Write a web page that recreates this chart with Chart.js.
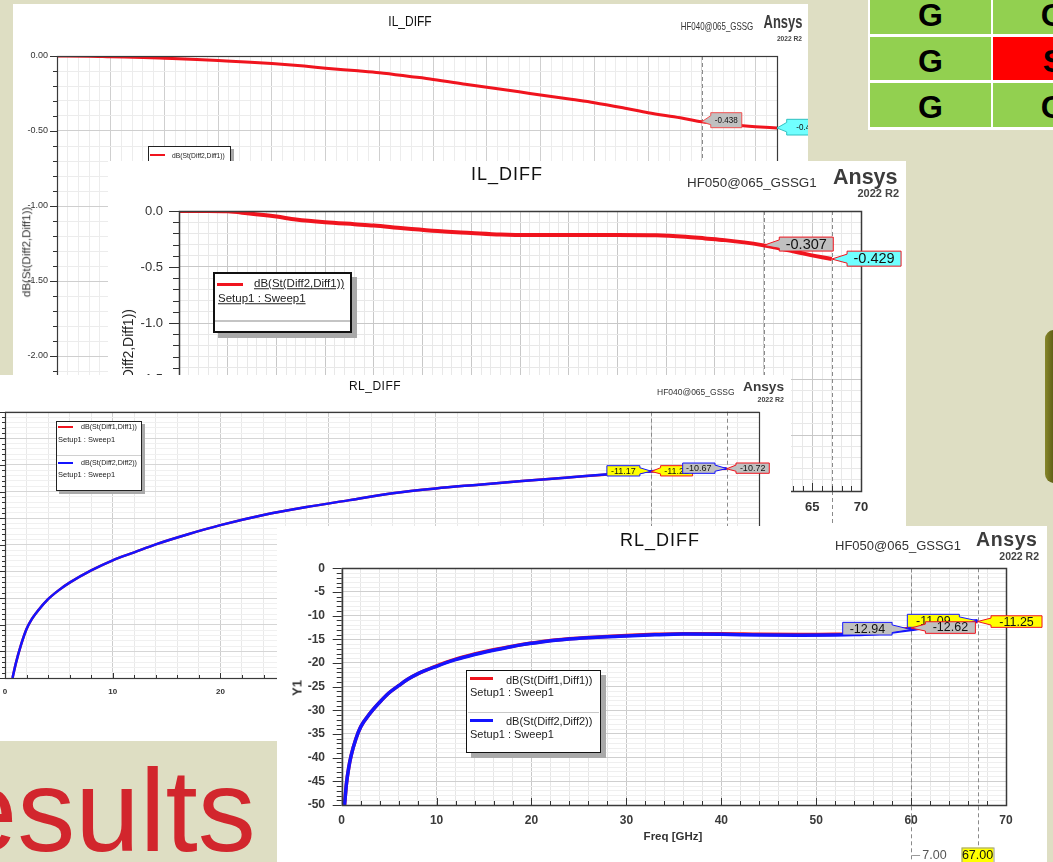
<!DOCTYPE html>
<html>
<head>
<meta charset="utf-8">
<title>IL_DIFF / RL_DIFF</title>
<script src="https://cdn.jsdelivr.net/npm/chart.js@4.4.1/dist/chart.umd.min.js"></script>
<style>
  html, body { margin: 0; padding: 0; }
  body { width: 1053px; height: 862px; position: relative; overflow: hidden;
         background: #dedec3; font-family: "Liberation Sans", Arial, sans-serif; }
  .panel { position: absolute; background: #fff; overflow: hidden; }
  .panel canvas { position: absolute; left: 0; top: 0; }
  .txt { position: absolute; white-space: nowrap; line-height: 1; }
  .box { position: absolute; box-sizing: border-box; }
</style>
</head>
<body>
<script>
// ---------------- data ----------------
// Insertion loss, HF040@065_GSSG : dB(St(Diff2,Diff1))
const ilFreq040 = [0, 3, 5, 8, 10, 13, 15, 18, 20, 23, 25, 28, 30, 33, 35, 38, 40, 43, 45, 48, 50, 53, 55, 58, 60, 63, 65, 67];
const ilS21_040 = [0, -0.001, -0.005, -0.010, -0.015, -0.023, -0.030, -0.041, -0.050, -0.067, -0.081, -0.099, -0.112, -0.138, -0.156, -0.188, -0.209, -0.239, -0.260, -0.290, -0.311, -0.350, -0.378, -0.412, -0.438, -0.460, -0.471, -0.480];

// Insertion loss, HF050@065_GSSG1 : dB(St(Diff2,Diff1))
const ilFreq050 = [0, 3, 5, 7, 10, 12, 15, 18, 20, 23, 26, 30, 33, 36, 40, 45, 49, 52, 54, 56, 58, 60, 62, 64, 67];
const ilS21_050 = [0, 0, -0.003, -0.020, -0.050, -0.075, -0.100, -0.118, -0.130, -0.155, -0.176, -0.196, -0.210, -0.215, -0.215, -0.215, -0.217, -0.230, -0.245, -0.260, -0.280, -0.307, -0.340, -0.378, -0.429];

// Return loss, HF040@065_GSSG : dB(St(Diff1,Diff1)) and dB(St(Diff2,Diff2))
const rlFreq040 = [0.7, 1, 1.5, 2, 2.5, 3, 4, 5, 6, 8, 10, 12, 14, 17, 20, 24, 28, 32, 36, 40, 44, 48, 52, 56, 60, 64, 67];
const rlS11_040 = [-50, -47.3, -43.7, -40.8, -38.9, -37.5, -35.2, -33.5, -32.1, -29.8, -27.9, -26.4, -24.9, -23.0, -21.3, -19.4, -17.9, -16.6, -15.3, -14.4, -13.7, -13.0, -12.4, -11.78, -11.22, -10.9, -10.72];
const rlS22_040 = [-50, -47.3, -43.7, -40.8, -38.9, -37.5, -35.2, -33.5, -32.1, -29.8, -27.9, -26.4, -24.9, -23.0, -21.3, -19.4, -17.9, -16.6, -15.3, -14.4, -13.7, -13.0, -12.4, -11.75, -11.17, -10.85, -10.67];

// Return loss, HF050@065_GSSG1 : dB(St(Diff1,Diff1)) and dB(St(Diff2,Diff2))
const rlFreq050 = [0.3, 0.5, 0.75, 1, 1.5, 2, 3, 4, 5, 6, 7, 8, 10, 12, 14, 16, 18, 20, 22, 25, 28, 30, 33, 36, 40, 44, 48, 52, 54, 56, 58, 60, 62, 64, 67];
const rlS11_050 = [-50, -45.5, -42, -39.5, -36, -33.5, -30.6, -28.3, -26.3, -24.8, -23.4, -22.3, -20.6, -19.2, -18.1, -17.2, -16.45, -15.8, -15.25, -14.75, -14.4, -14.2, -13.95, -13.8, -13.8, -13.95, -14.0, -13.95, -13.8, -13.55, -13.2, -12.62, -12.1, -11.7, -11.25];
const rlS22_050 = [-50, -45.5, -42, -39.5, -36, -33.5, -30.6, -28.3, -26.3, -24.8, -23.4, -22.3, -20.7, -19.3, -18.2, -17.3, -16.5, -15.85, -15.3, -14.8, -14.45, -14.3, -14.05, -13.9, -13.95, -14.1, -14.15, -14.1, -14.0, -13.8, -13.45, -12.94, -12.3, -11.8, -11.09];

// marker cursors (GHz) and markers: series index + frequency
const cursorFreqs = [60, 67];
const il040Markers = [{ s: 0, f: 60 }, { s: 0, f: 67 }];
const il050Markers = [{ s: 0, f: 60 }, { s: 0, f: 67 }];
const rl040Markers = [{ s: 1, f: 60 }, { s: 0, f: 60 }, { s: 1, f: 67 }, { s: 0, f: 67 }];
const rl050Markers = [{ s: 1, f: 67 }, { s: 1, f: 60 }, { s: 0, f: 60 }, { s: 0, f: 67 }];

// status table
const tableLetters = [['G', 'G'], ['G', 'S'], ['G', 'G']];
const tableState = [['ok', 'ok'], ['ok', 'bad'], ['ok', 'ok']];

// ---------------- helpers ----------------
const FONT = '"Liberation Sans", Arial, sans-serif';
const RED = '#f0141e', BLUE = '#1414ff';
const GRAYBOX = '#c0c0c0', YELLOW = '#ffff00', CYAN = '#70ffff';
Chart.defaults.font.family = FONT;

const onStep = (v, s) => Math.abs(v / s - Math.round(v / s)) < 1e-6;

function makePanel(x, y, w, h) {
  const el = document.createElement('div');
  el.className = 'panel';
  Object.assign(el.style, { left: x + 'px', top: y + 'px', width: w + 'px', height: h + 'px' });
  document.body.appendChild(el);
  return { el, ox: x, oy: y, w, h };
}
const root = { el: document.body, ox: 0, oy: 0 };

function addText(p, str, x, y, o = {}) {
  const d = document.createElement('div');
  d.className = 'txt';
  d.textContent = str;
  const s = d.style;
  s.left = (x - p.ox) + 'px';
  s.top = (y - p.oy) + 'px';
  s.fontSize = (o.size || 12) + 'px';
  s.fontWeight = o.bold ? 'bold' : 'normal';
  s.color = o.color || '#222';
  if (o.spacing) s.letterSpacing = o.spacing + 'px';
  if (o.underline) s.textDecoration = 'underline';
  const a = o.align || 'l';
  const tx = a === 'c' ? '-50%' : a === 'r' ? '-100%' : '0';
  const orx = a === 'c' ? '50%' : a === 'r' ? '100%' : '0';
  s.transformOrigin = orx + ' 50%';
  s.transform = `translate(${tx},-50%)` + (o.rot ? ` rotate(${o.rot}deg)` : '') + (o.sx ? ` scaleX(${o.sx})` : '');
  p.el.appendChild(d);
  return d;
}
function addRect(p, x, y, w, h, css) {
  const d = document.createElement('div');
  d.className = 'box';
  Object.assign(d.style, { left: (x - p.ox) + 'px', top: (y - p.oy) + 'px', width: w + 'px', height: h + 'px' }, css || {});
  p.el.appendChild(d);
  return d;
}

function drawFlag(ctx, px, py, text, st, font) {
  const bx = px + st.dx, by = py + st.dy, w = st.w, h = st.h;
  ctx.beginPath();
  if (bx > px) {
    ctx.moveTo(bx, by); ctx.lineTo(bx + w, by); ctx.lineTo(bx + w, by + h); ctx.lineTo(bx, by + h);
    ctx.lineTo(bx, by + h * 0.8); ctx.lineTo(px, py); ctx.lineTo(bx, by + h * 0.2);
  } else {
    ctx.moveTo(bx, by); ctx.lineTo(bx + w, by); ctx.lineTo(bx + w, by + h * 0.2); ctx.lineTo(px, py);
    ctx.lineTo(bx + w, by + h * 0.8); ctx.lineTo(bx + w, by + h); ctx.lineTo(bx, by + h);
  }
  ctx.closePath();
  ctx.fillStyle = st.fill; ctx.fill();
  ctx.setLineDash([]);
  ctx.lineWidth = 1; ctx.strokeStyle = st.stroke; ctx.stroke();
  ctx.save();
  ctx.translate(bx + w / 2, by + h / 2 + 0.5);
  ctx.scale(font.sx || 1, 1);
  ctx.fillStyle = '#111';
  ctx.font = `${font.size}px ${FONT}`;
  ctx.textAlign = 'center'; ctx.textBaseline = 'middle';
  ctx.fillText(text, 0, 0);
  ctx.restore();
}

// plot decorations: cursor lines, axis tick marks, frame, marker flags
function makeDecor(spec) {
  const line = (ctx, x1, y1, x2, y2) => { ctx.beginPath(); ctx.moveTo(x1, y1); ctx.lineTo(x2, y2); ctx.stroke(); };
  return {
    id: 'decor',
    beforeDatasetsDraw(chart) {
      const { ctx, chartArea: a, scales: { x } } = chart;
      ctx.save();
      ctx.strokeStyle = '#8a8a8a'; ctx.lineWidth = 1; ctx.setLineDash([4, 3]);
      cursorFreqs.forEach(f => {
        const px = Math.round(x.getPixelForValue(f)) + 0.5;
        line(ctx, px, a.top, px, chart.height);
      });
      ctx.restore();
    },
    afterDatasetsDraw(chart) {
      const { ctx, chartArea: a, scales: { x, y } } = chart;
      ctx.save();
      ctx.strokeStyle = '#333'; ctx.lineWidth = 1;
      y.ticks.forEach(t => {
        const py = Math.round(y.getPixelForValue(t.value)) + 0.5;
        const len = onStep(t.value, spec.y.major) ? spec.tick.yMaj : spec.tick.yMin;
        line(ctx, a.left - len, py, a.left, py);
      });
      x.ticks.forEach(t => {
        const px = Math.round(x.getPixelForValue(t.value)) + 0.5;
        const len = onStep(t.value, spec.x.major) ? spec.tick.xMaj : spec.tick.xMin;
        line(ctx, px, a.bottom, px, a.bottom - len);
      });
      ctx.strokeStyle = '#3a3a3a'; ctx.lineWidth = spec.frame;
      ctx.strokeRect(Math.round(a.left) + 0.5, Math.round(a.top) + 0.5, Math.round(a.right - a.left), Math.round(a.bottom - a.top));
      spec.markers.forEach((m, i) => {
        const ser = spec.series[m.s];
        const v = ser.ys[ser.xs.indexOf(m.f)];
        drawFlag(ctx, x.getPixelForValue(m.f), y.getPixelForValue(v), v.toFixed(spec.digits), spec.flags[i], spec.flagFont);
      });
      if (spec.cursorReadout) {
        const r = spec.cursorReadout;
        const p0 = x.getPixelForValue(cursorFreqs[0]), p1 = x.getPixelForValue(cursorFreqs[1]);
        ctx.font = `${r.size}px ${FONT}`; ctx.textBaseline = 'middle'; ctx.textAlign = 'center';
        // value box on the second cursor
        ctx.fillStyle = YELLOW; ctx.fillRect(p1 - r.w / 2, r.y - r.h / 2, r.w, r.h);
        ctx.strokeStyle = '#9a9a9a'; ctx.strokeRect(p1 - r.w / 2 + 0.5, r.y - r.h / 2 + 0.5, r.w, r.h);
        ctx.fillStyle = '#111'; ctx.fillText(cursorFreqs[1].toFixed(2), p1, r.y + 0.5);
        // spacing between the two cursors
        ctx.fillStyle = '#555'; ctx.fillText((cursorFreqs[1] - cursorFreqs[0]).toFixed(2), p1 + r.dDx, r.y + 0.5);
        ctx.strokeStyle = '#9a9a9a'; line(ctx, p0 + 1, r.y + 0.5, p0 + 9, r.y + 0.5);
      }
      ctx.restore();
    }
  };
}

function axisOpts(a, kind, size) {
  return {
    type: 'linear', position: kind === 'x' ? 'bottom' : 'left',
    min: a.min, max: a.max,
    afterFit: s => { if (kind === 'x') s.height = size; else s.width = size; },
    border: { display: false },
    grid: {
      drawTicks: false, lineWidth: 1,
      color: c => onStep(c.tick.value, a.major) ? a.majorGrid : a.minorGrid
    },
    ticks: {
      stepSize: a.step, autoSkip: false, maxRotation: 0, minRotation: 0,
      padding: a.pad, color: a.color || '#333',
      font: { family: FONT, size: a.size, weight: a.bold ? 'bold' : 'normal' },
      callback: v => onStep(v, a.major) ? a.fmt(v) : ''
    }
  };
}

function buildPlot(p, spec) {
  const c = document.createElement('canvas');
  c.width = p.w; c.height = p.h;
  c.style.width = p.w + 'px'; c.style.height = p.h + 'px';
  p.el.appendChild(c);
  const L = spec.plot.left - p.ox;
  const T = spec.plot.top - p.oy;
  const R = p.w - (spec.plot.right - p.ox);
  const B = p.h - (spec.plot.bottom - p.oy);
  new Chart(c.getContext('2d'), {
    type: 'line',
    data: {
      // later series are painted on top of earlier ones
      datasets: spec.series.map((s, k) => ({
        data: s.xs.map((f, i) => ({ x: f, y: s.ys[i] })),
        borderColor: s.color, borderWidth: s.width, order: spec.series.length - k,
        pointRadius: 0, fill: false, cubicInterpolationMode: 'monotone'
      }))
    },
    options: {
      responsive: false, animation: false, devicePixelRatio: 1, events: [],
      layout: { padding: { left: 0, top: T, right: R, bottom: 0 } },
      plugins: { legend: { display: false }, tooltip: { enabled: false }, title: { display: false } },
      scales: { x: axisOpts(spec.x, 'x', B), y: axisOpts(spec.y, 'y', L) }
    },
    plugins: [makeDecor(spec)]
  });
}

function legendBox(p, x, y, w, h, border, shadow) {
  addRect(p, x, y, w, h, { background: '#fff', border: border, boxShadow: `${shadow}px ${shadow}px 0 #a9a9a9` });
}
function swatch(p, x1, x2, y, thick, color) {
  addRect(p, x1, y - thick / 2, x2 - x1, thick, { background: color });
}

// ---------------- slide background items ----------------
(function table() {
  addRect(root, 868, -12, 200, 142, { background: '#fff' });
  const colX = [870.3, 993.3], colW = [120.4, 120];
  const rowY = [-9.5, 36.7, 83.3], rowH = [43.5, 43.3, 43.7], textY = [15.3, 61.3, 107.2];
  tableLetters.forEach((row, r) => row.forEach((ch, k) => {
    addRect(root, colX[k], rowY[r], colW[k], rowH[r], { background: tableState[r][k] === 'ok' ? '#92d050' : '#ff0000' });
    addText(root, ch, colX[k] + colW[k] / 2, textY[r], { size: 32, bold: true, color: '#000', align: 'c' });
  }));
})();
addRect(root, 1045, 330, 24, 153, { background: 'linear-gradient(to right, #86862a, #5a5a12 40%, #44440a)', borderRadius: '9px 0 0 9px' });
addText(root, 'Results', -131, 811, { size: 116, color: '#d2262d' });

// ---------------- IL_DIFF  HF040@065_GSSG ----------------
const p1 = makePanel(13, 4, 795, 480);
buildPlot(p1, {
  plot: { left: 57, top: 56, right: 777, bottom: 431 },
  x: { min: 0, max: 67, step: 1, major: 5, fmt: v => String(v), size: 9, pad: 6, majorGrid: '#cfcfcf', minorGrid: '#ececec' },
  y: { min: -2.5, max: 0, step: 0.1, major: 0.5, fmt: v => v.toFixed(2), size: 9, pad: 9, majorGrid: '#cfcfcf', minorGrid: '#ececec' },
  tick: { yMaj: 7, yMin: 4, xMaj: 6, xMin: 3 },
  frame: 1.2,
  series: [{ xs: ilFreq040, ys: ilS21_040, color: RED, width: 3 }],
  markers: il040Markers,
  digits: 3,
  flags: [
    { dx: 9, dy: -9, w: 31, h: 15, fill: GRAYBOX, stroke: '#f05050' },
    { dx: 9.7, dy: -8.7, w: 42, h: 15.7, fill: CYAN, stroke: '#30c0c0' }
  ],
  flagFont: { size: 9.5, sx: 0.85 }
});
addText(p1, 'IL_DIFF', 410, 19.5, { size: 15, sx: 0.8, color: '#111', align: 'c' });
addText(p1, 'HF040@065_GSSG', 717, 26.5, { size: 11.5, sx: 0.69, color: '#333', align: 'c' });
addText(p1, 'Ansys', 782.5, 21.5, { size: 18, bold: true, sx: 0.72, color: '#3c3c3c', align: 'c' });
addText(p1, '2022 R2', 802, 38.5, { size: 8, bold: true, sx: 0.83, color: '#444', align: 'r' });
addText(p1, 'dB(St(Diff2,Diff1))', 27, 252, { size: 11.5, rot: -90, color: '#333', align: 'c' });
legendBox(p1, 148, 146, 83, 70, '1px solid #222', 3);
swatch(p1, 150, 165, 155.3, 2, RED);
addText(p1, 'dB(St(Diff2,Diff1))', 172, 155.5, { size: 8, sx: 0.84, color: '#222' });

// ---------------- IL_DIFF  HF050@065_GSSG1 ----------------
const p2 = makePanel(108, 161, 798, 380);
buildPlot(p2, {
  plot: { left: 179, top: 211, right: 861, bottom: 491 },
  x: { min: 0, max: 70, step: 1, major: 5, fmt: v => String(v), size: 13, bold: true, pad: 9, majorGrid: '#c8c8c8', minorGrid: '#e8e8e8' },
  y: { min: -2.5, max: 0, step: 0.1, major: 0.5, fmt: v => v.toFixed(1), size: 13, pad: 16, majorGrid: '#c8c8c8', minorGrid: '#e8e8e8' },
  tick: { yMaj: 10, yMin: 6, xMaj: 8, xMin: 5 },
  frame: 1.5,
  series: [{ xs: ilFreq050, ys: ilS21_050, color: RED, width: 4 }],
  markers: il050Markers,
  digits: 3,
  flags: [
    { dx: 15.7, dy: -8.3, w: 54, h: 14, fill: GRAYBOX, stroke: RED },
    { dx: 15.3, dy: -7.9, w: 54, h: 15, fill: CYAN, stroke: RED }
  ],
  flagFont: { size: 14.5 }
});
addText(p2, 'IL_DIFF', 507, 174, { size: 18, spacing: 1, color: '#111', align: 'c' });
addText(p2, 'HF050@065_GSSG1', 687, 183, { size: 13.4, color: '#333' });
addText(p2, 'Ansys', 833, 178, { size: 21.5, bold: true, color: '#3c3c3c' });
addText(p2, '2022 R2', 899, 193, { size: 11, bold: true, color: '#444', align: 'r' });
addText(p2, 'dB(St(Diff2,Diff1))', 128, 364, { size: 14, rot: -90, color: '#222', align: 'c' });
legendBox(p2, 213, 272, 139, 61, '2px solid #111', 5);
swatch(p2, 217, 243, 284, 3, RED);
addText(p2, 'dB(St(Diff2,Diff1))', 254, 284, { size: 11.5, underline: true, color: '#222' });
addText(p2, 'Setup1 : Sweep1', 218, 299, { size: 11.5, underline: true, color: '#222' });
addRect(p2, 215, 320.3, 135, 1.5, { background: '#c4c4c4' });

// ---------------- RL_DIFF  HF040@065_GSSG ----------------
const p3 = makePanel(-60, 375, 851, 366);
buildPlot(p3, {
  plot: { left: 5, top: 411.7, right: 759, bottom: 678 },
  x: { min: 0, max: 70, step: 2, major: 10, fmt: v => String(v), size: 8, bold: true, pad: 9, majorGrid: '#cdcdcd', minorGrid: '#e9e9e9' },
  y: { min: -50, max: 0, step: 1, major: 5, fmt: v => String(v), size: 8, bold: true, pad: 8, majorGrid: '#d6d6d6', minorGrid: '#f0f0f0' },
  tick: { yMaj: 5, yMin: 3, xMaj: 5, xMin: 3 },
  frame: 1.2,
  series: [
    { xs: rlFreq040, ys: rlS11_040, color: RED, width: 2.5 },
    { xs: rlFreq040, ys: rlS22_040, color: BLUE, width: 2.5 }
  ],
  markers: rl040Markers,
  digits: 2,
  flags: [
    { dx: -44.4, dy: -5.5, w: 33, h: 10.3, fill: YELLOW, stroke: BLUE },
    { dx: 9.3, dy: -5.8, w: 32, h: 10.3, fill: YELLOW, stroke: RED },
    { dx: -44, dy: -5.5, w: 32.3, h: 10.3, fill: GRAYBOX, stroke: BLUE },
    { dx: 9.3, dy: -5.8, w: 33.3, h: 10.3, fill: GRAYBOX, stroke: RED }
  ],
  flagFont: { size: 9 }
});
addText(p3, 'RL_DIFF', 375, 386, { size: 12, spacing: 0.5, color: '#111', align: 'c' });
addText(p3, 'HF040@065_GSSG', 657, 391.7, { size: 8.5, color: '#333' });
addText(p3, 'Ansys', 743, 387, { size: 13.7, bold: true, color: '#3c3c3c' });
addText(p3, '2022 R2', 784, 399, { size: 7, bold: true, color: '#444', align: 'r' });
legendBox(p3, 56, 420.7, 85.7, 70.3, '1px solid #222', 3);
swatch(p3, 58, 72.7, 427.3, 2, RED);
addText(p3, 'dB(St(Diff1,Diff1))', 81, 427.3, { size: 7.5, sx: 0.95, color: '#222' });
addText(p3, 'Setup1 : Sweep1', 58, 439.7, { size: 7.5, color: '#222' });
addRect(p3, 57, 454.5, 84, 1, { background: '#d0d0d0' });
swatch(p3, 58, 72.7, 462.7, 2, BLUE);
addText(p3, 'dB(St(Diff2,Diff2))', 81, 462.7, { size: 7.5, sx: 0.95, color: '#222' });
addText(p3, 'Setup1 : Sweep1', 58, 474.7, { size: 7.5, color: '#222' });

// ---------------- RL_DIFF  HF050@065_GSSG1 ----------------
const p4 = makePanel(277, 526, 770, 400);
buildPlot(p4, {
  plot: { left: 341.7, top: 568.3, right: 1006, bottom: 805 },
  x: { min: 0, max: 70, step: 2, major: 10, fmt: v => String(v), size: 12, bold: true, pad: 8, color: '#3a3a3a', majorGrid: '#c8c8c8', minorGrid: '#e6e6e6' },
  y: { min: -50, max: 0, step: 1, major: 5, fmt: v => String(v), size: 12, bold: true, pad: 16.7, color: '#3a3a3a', majorGrid: '#cfcfcf', minorGrid: '#efefef' },
  tick: { yMaj: 9, yMin: 5, xMaj: 7, xMin: 4 },
  frame: 1.5,
  series: [
    { xs: rlFreq050, ys: rlS11_050, color: RED, width: 3.5 },
    { xs: rlFreq050, ys: rlS22_050, color: BLUE, width: 3.5 }
  ],
  markers: rl050Markers,
  digits: 2,
  flags: [
    { dx: -70.2, dy: -6.5, w: 52, h: 13, fill: YELLOW, stroke: BLUE },
    { dx: -68.4, dy: -7.2, w: 49.4, h: 12.7, fill: GRAYBOX, stroke: BLUE },
    { dx: 14.3, dy: -6.3, w: 50, h: 11.6, fill: GRAYBOX, stroke: RED },
    { dx: 13.5, dy: -5.8, w: 51, h: 11.6, fill: YELLOW, stroke: RED }
  ],
  flagFont: { size: 12.5 },
  cursorReadout: { y: 855 - 526, w: 32, h: 15, size: 12.5, dDx: -43 }
});
addText(p4, 'RL_DIFF', 660, 540, { size: 18, spacing: 1, color: '#111', align: 'c' });
addText(p4, 'HF050@065_GSSG1', 835, 545, { size: 13, color: '#333' });
addText(p4, 'Ansys', 976, 539.5, { size: 19.5, bold: true, spacing: 0.6, color: '#3c3c3c' });
addText(p4, '2022 R2', 1039, 555.5, { size: 10.5, bold: true, color: '#444', align: 'r' });
addText(p4, 'Y1', 296.5, 688, { size: 13, bold: true, rot: -90, color: '#333', align: 'c' });
addText(p4, 'Freq [GHz]', 673, 837, { size: 11.5, bold: true, color: '#333', align: 'c' });
legendBox(p4, 466, 670, 134.7, 83.3, '1.5px solid #111', 5);
swatch(p4, 470, 493.3, 678.3, 3, RED);
addText(p4, 'dB(St(Diff1,Diff1))', 506, 680, { size: 11, color: '#222' });
addText(p4, 'Setup1 : Sweep1', 470, 692.3, { size: 11, color: '#222' });
addRect(p4, 467.5, 711.5, 131.7, 1.5, { background: '#c8c8c8' });
swatch(p4, 470, 493.3, 720, 3, BLUE);
addText(p4, 'dB(St(Diff2,Diff2))', 506, 721, { size: 11, color: '#222' });
addText(p4, 'Setup1 : Sweep1', 470, 734, { size: 11, color: '#222' });
</script>
</body>
</html>
